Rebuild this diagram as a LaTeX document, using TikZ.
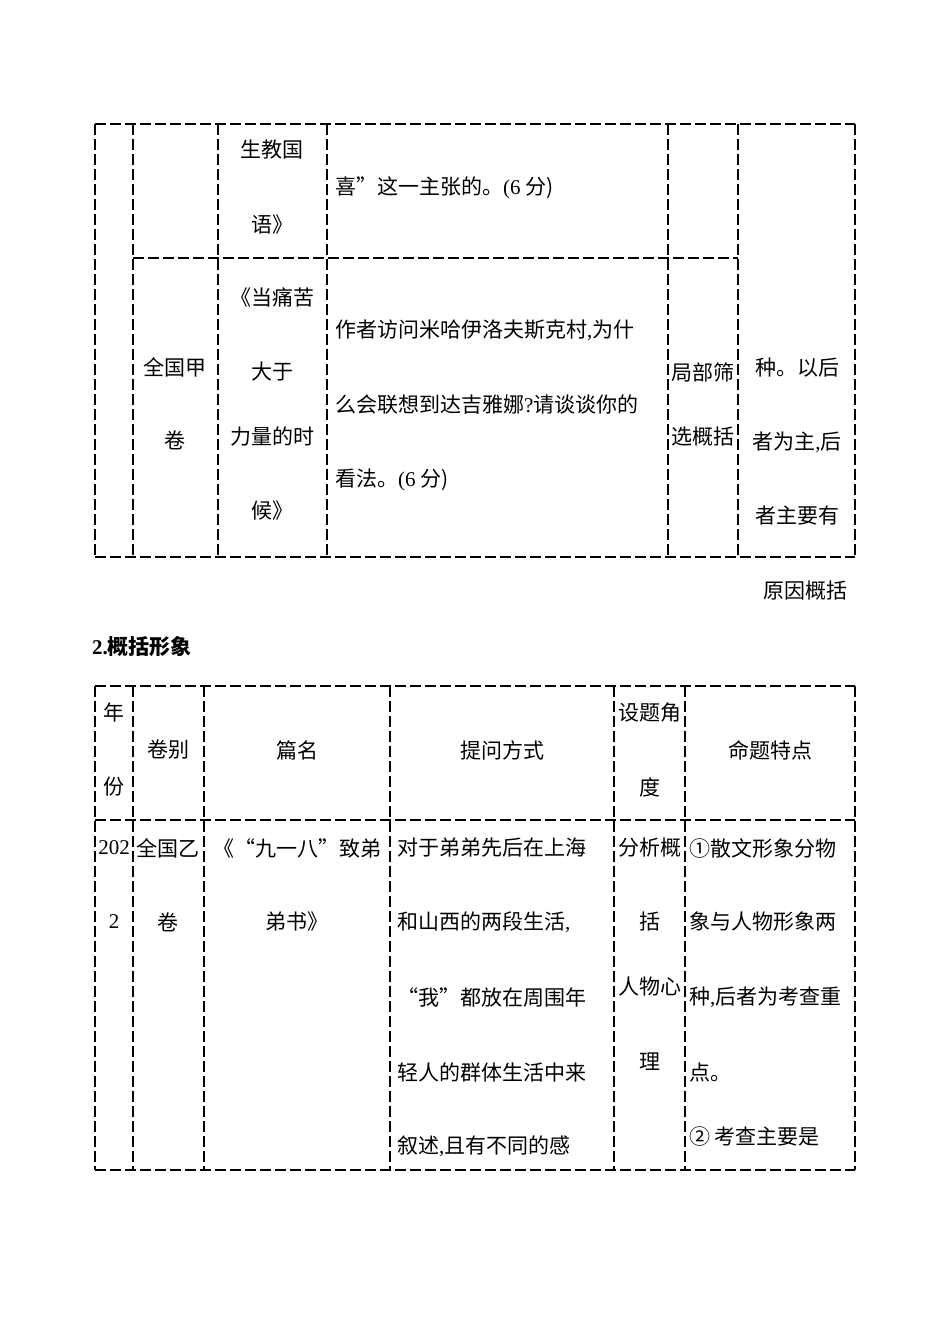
\documentclass[tikz,border=0pt]{standalone}
\usepackage{fontspec}
\setmainfont{Liberation Serif}
\newfontfamily\cjk{Noto Sans CJK SC}
\begin{document}
\begin{tikzpicture}[x=1pt,y=-1pt,line cap=butt,
  grid/.style={line width=1.1pt,dash pattern=on 11pt off 4pt},
  cell/.style={font=\cjk\fontsize{21}{21}\selectfont,inner sep=0pt},
  lcell/.style={cell,anchor=west}]
  \path[use as bounding box] (0,0) rectangle (950,1344);

  % table 1
  \draw[grid] (95,124) -- (855,124);
  \draw[grid] (133,258) -- (738,258);
  \draw[grid] (95,557) -- (855,557);
  \foreach \x in {95,133,218,327,668,738,855}
    \draw[grid] (\x,124) -- (\x,557);

  \node[cell] (a1) at (272,150) {生教国};
  \node[cell] (a2) at (272,225) {语》};
  \node[lcell] (a3) at (335,188) {喜”这一主张的。\rmfamily(6 \cjk 分)};

  \node[cell] (b1) at (175,367) {全国甲};
  \node[cell] (b2) at (175,440) {卷};
  \node[cell] (c1) at (272,298) {《当痛苦};
  \node[cell] (c2) at (272,372) {大于};
  \node[cell] (c3) at (272,437) {力量的时};
  \node[cell] (c4) at (272,511) {候》};
  \node[lcell] (d1) at (335,330) {作者访问米哈伊洛夫斯克村\rmfamily,\cjk 为什};
  \node[lcell] (d2) at (335,405) {么会联想到达吉雅娜\rmfamily?\cjk 请谈谈你的};
  \node[lcell] (d3) at (335,480) {看法。\rmfamily(6 \cjk 分)};
  \node[cell] (e1) at (703,372) {局部筛};
  \node[cell] (e2) at (703,437) {选概括};
  \node[cell] (f1) at (797,368) {种。以后};
  \node[cell] (f2) at (797,442) {者为主\rmfamily,\cjk 后};
  \node[cell] (f3) at (797,516) {者主要有};
  \node[cell,anchor=east] (g) at (848,591) {原因概括};

  \node[cell,anchor=west,font=\bfseries\cjk\bfseries\fontsize{21}{21}\selectfont] (h) at (92,647) {\rmfamily\bfseries 2.\cjk 概括形象};

  % table 2
  \draw[grid] (95,686) -- (855,686);
  \draw[grid] (95,820) -- (855,820);
  \draw[grid] (95,1170) -- (855,1170);
  \foreach \x in {95,133,204,390,614,685,855}
    \draw[grid] (\x,686) -- (\x,1170);

  \node[cell] (p1) at (114,712) {年};
  \node[cell] (p2) at (114,787) {份};
  \node[cell] (p3) at (168,750) {卷别};
  \node[cell] (p4) at (297,750) {篇名};
  \node[cell] (p5) at (502,750) {提问方式};
  \node[cell] (p6) at (650,713) {设题角};
  \node[cell] (p7) at (650,787) {度};
  \node[cell] (p8) at (770,750) {命题特点};

  \node[cell,font=\rmfamily\fontsize{21}{21}\selectfont] (q1) at (114,848) {202};
  \node[cell,font=\rmfamily\fontsize{21}{21}\selectfont] (q2) at (114,922) {2};
  \node[cell] (q3) at (168,848) {全国乙};
  \node[cell] (q4) at (168,922) {卷};
  \node[cell] (q5) at (297,848) {《“九一八”致弟};
  \node[cell] (q6) at (297,922) {弟书》};
  \node[lcell] (r1) at (397,848) {对于弟弟先后在上海};
  \node[lcell] (r2) at (397,922) {和山西的两段生活\rmfamily,};
  \node[lcell] (r3) at (397,997) {“我”都放在周围年};
  \node[lcell] (r4) at (397,1072) {轻人的群体生活中来};
  \node[lcell] (r5) at (397,1146) {叙述\rmfamily,\cjk 且有不同的感};
  \node[cell] (s1) at (650,848) {分析概};
  \node[cell] (s2) at (650,922) {括};
  \node[cell] (s3) at (650,987) {人物心};
  \node[cell] (s4) at (650,1062) {理};
  \node[lcell] (t1) at (689,848) {①散文形象分物};
  \node[lcell] (t2) at (689,922) {象与人物形象两};
  \node[lcell] (t3) at (689,997) {种\rmfamily,\cjk 后者为考查重};
  \node[lcell] (t4) at (689,1072) {点。};
  \node[lcell] (t5) at (689,1137) {② 考查主要是};
\end{tikzpicture}
\end{document}
